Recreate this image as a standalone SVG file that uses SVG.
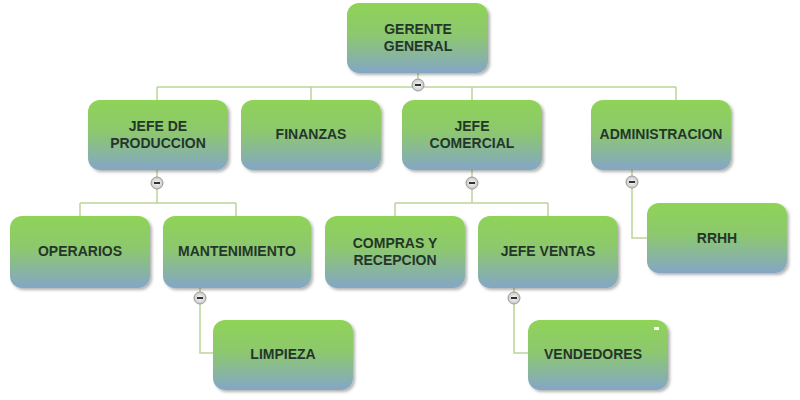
<svg xmlns="http://www.w3.org/2000/svg" width="800" height="400" viewBox="0 0 800 400">
<defs>
<linearGradient id="g" x1="0" y1="0" x2="0" y2="1">
<stop offset="0" stop-color="#8fd357"/><stop offset="0.45" stop-color="#8dc86e"/><stop offset="1" stop-color="#84a6c6"/>
</linearGradient>
<filter id="sh" x="-10%" y="-10%" width="130%" height="130%"><feDropShadow dx="2" dy="2" stdDeviation="1.5" flood-color="#000" flood-opacity="0.3"/></filter>
<radialGradient id="bg"><stop offset="0" stop-color="#fafafa"/><stop offset="1" stop-color="#c8c8c8"/></radialGradient>
</defs>
<style>
.n{fill:url(#g);filter:url(#sh)}
.t{font-family:"Liberation Sans",Arial,sans-serif;font-weight:bold;font-size:14px;fill:#24362a;text-anchor:middle}
.c{fill:none;stroke:#bcd59a;stroke-width:1.5}
.b circle{fill:url(#bg);stroke:#9a9a9a;stroke-width:1}
.b line{stroke:#333;stroke-width:2}
</style>
<rect width="800" height="400" fill="#fff"/>
<g id="connectors">
<path class="c" d="M418 73V87M157 87H676M157 87V100M311 87V100M472 87V100M676 87V100"/>
<path class="c" d="M157 170V203M80 203H236M80 203V216M236 203V216"/>
<path class="c" d="M472 170V203M395 203H548M395 203V216M548 203V216"/>
<path class="c" d="M632 170V238H647"/>
<path class="c" d="M200 288V353H213"/>
<path class="c" d="M514 288V353H528"/>
</g>
<g id="n0"><rect class="n" x="347" y="3" width="141" height="70" rx="12"/><text class="t" x="418" y="34">GERENTE</text><text class="t" x="418" y="51">GENERAL</text></g>
<g id="n1"><rect class="n" x="88" y="100" width="140" height="70" rx="12"/><text class="t" x="158" y="131">JEFE DE</text><text class="t" x="158" y="148">PRODUCCION</text></g>
<g id="n2"><rect class="n" x="241" y="100" width="140" height="70" rx="12"/><text class="t" x="311" y="139">FINANZAS</text></g>
<g id="n3"><rect class="n" x="402" y="100" width="140" height="70" rx="12"/><text class="t" x="472" y="131">JEFE</text><text class="t" x="472" y="148">COMERCIAL</text></g>
<g id="n4"><rect class="n" x="591" y="100" width="140" height="70" rx="12"/><text class="t" x="661" y="139">ADMINISTRACION</text></g>
<g id="n5"><rect class="n" x="10" y="216" width="140" height="72" rx="12"/><text class="t" x="80" y="256">OPERARIOS</text></g>
<g id="n6"><rect class="n" x="163" y="216" width="148" height="72" rx="12"/><text class="t" x="237" y="256">MANTENIMIENTO</text></g>
<g id="n7"><rect class="n" x="325" y="216" width="140" height="72" rx="12"/><text class="t" x="395" y="248">COMPRAS Y</text><text class="t" x="395" y="265">RECEPCION</text></g>
<g id="n8"><rect class="n" x="478" y="216" width="140" height="72" rx="12"/><text class="t" x="548" y="256">JEFE VENTAS</text></g>
<g id="n9"><rect class="n" x="647" y="203" width="140" height="70" rx="12"/><text class="t" x="717" y="243">RRHH</text></g>
<g id="n10"><rect class="n" x="213" y="320" width="140" height="70" rx="12"/><text class="t" x="283" y="359">LIMPIEZA</text></g>
<g id="n11"><rect class="n" x="528" y="320" width="140" height="70" rx="12"/><text class="t" x="593" y="359">VENDEDORES</text><rect x="654" y="327" width="5" height="3" fill="#fff"/></g>
<g id="buttons">
<g class="b"><circle cx="418" cy="85" r="6"/><line x1="415" y1="85" x2="421" y2="85"/></g>
<g class="b"><circle cx="157" cy="183" r="6"/><line x1="154" y1="183" x2="160" y2="183"/></g>
<g class="b"><circle cx="472" cy="183" r="6"/><line x1="469" y1="183" x2="475" y2="183"/></g>
<g class="b"><circle cx="632" cy="182" r="6"/><line x1="629" y1="182" x2="635" y2="182"/></g>
<g class="b"><circle cx="200" cy="298" r="6"/><line x1="197" y1="298" x2="203" y2="298"/></g>
<g class="b"><circle cx="514" cy="298" r="6"/><line x1="511" y1="298" x2="517" y2="298"/></g>
</g>
</svg>
